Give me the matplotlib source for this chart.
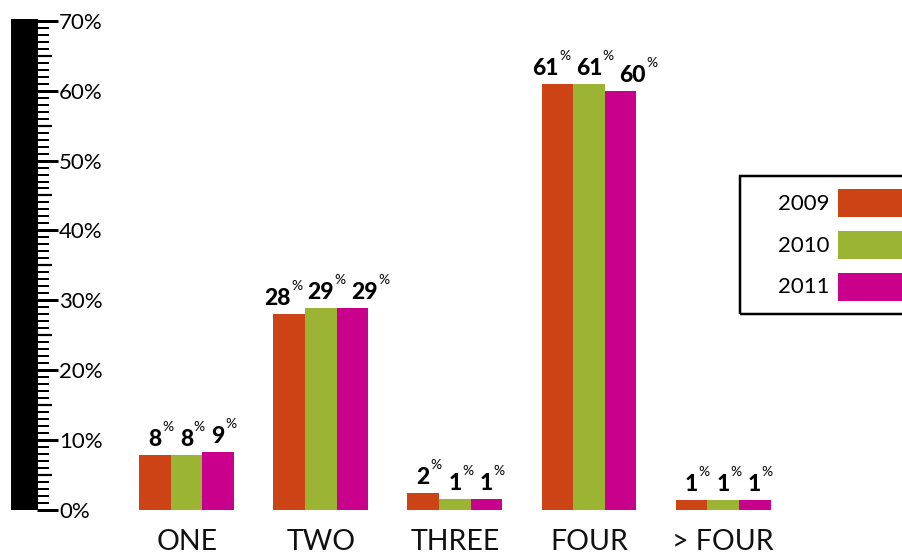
import matplotlib
matplotlib.use('Agg')
import matplotlib.pyplot as plt
import matplotlib.transforms as mtrans
from matplotlib.patches import Rectangle
import numpy as np

# ---------------- data ----------------
categories = ['ONE', 'TWO', 'THREE', 'FOUR', '> FOUR']
years = ['2009', '2010', '2011']
values_2009 = [7.8, 28.0, 2.4, 61.0, 1.3]
values_2010 = [7.8, 28.9, 1.5, 61.0, 1.3]
values_2011 = [8.3, 28.9, 1.5, 59.9, 1.3]
labels_2009 = ['8', '28', '2', '61', '1']
labels_2010 = ['8', '29', '1', '61', '1']
labels_2011 = ['9', '29', '1', '60', '1']
y_ticks = [0, 10, 20, 30, 40, 50, 60, 70]
y_tick_labels = ['0%', '10%', '20%', '30%', '40%', '50%', '60%', '70%']
colors = ['#CC4416', '#9CB434', '#C8008C']

series = [values_2009, values_2010, values_2011]
series_labels = [labels_2009, labels_2010, labels_2011]

# ---------------- layout ----------------
W, H = 903, 553
DPI = 100
PT = 72.0 / DPI          # points per pixel

y0_pix, y70_pix = 509.5, 21.0
x0_pix, step_pix = 186.7, 134.1

fig = plt.figure(figsize=(W / DPI, H / DPI), dpi=DPI)
ax = fig.add_axes([0, (H - y0_pix) / H, 1, (y0_pix - y70_pix) / H])
ax.set_xlim(-x0_pix / step_pix, (W - x0_pix) / step_pix)
ax.set_ylim(0, 70)
ax.axis('off')

FONT = ['Lato', 'DejaVu Sans']

# bars
x = np.arange(len(categories))
w = 31.6 / step_pix
for j, (vals, col) in enumerate(zip(series, colors)):
    ax.bar(x + (j - 1) * w, vals, width=w, color=col, edgecolor='none')

# ruler
yt = ax.get_yaxis_transform()
ax.add_patch(Rectangle((11 / W, -0.07), 27 / W, 70.36, transform=yt,
                       facecolor='black', edgecolor='none', clip_on=False))
for v in range(0, 71):
    if v % 10 == 0:
        end, lw = 58, 3.0
    elif v % 5 == 0:
        end, lw = 52, 2.2
    else:
        end, lw = 49, 2.0
    ax.plot([37 / W, end / W], [v, v], transform=yt, color='black',
            lw=lw * PT, solid_capstyle='butt', clip_on=False)

for v, lab in zip(y_ticks, y_tick_labels):
    ax.annotate(lab, xy=(59 / W, v), xycoords=yt, xytext=(0, -8 * PT),
                textcoords='offset points', ha='left', va='baseline',
                fontsize=16, family=FONT, color='black')

# category labels
for xi, cat in zip(x, categories):
    ax.annotate(cat, xy=(xi, 0), xytext=(0, -(549.5 - y0_pix) * PT),
                textcoords='offset points', ha='center', va='baseline',
                fontsize=20.5, family=FONT, weight='normal', color='#111111',
                annotation_clip=False)

# value labels
fig.canvas.draw()
renderer = fig.canvas.get_renderer()
for j, (vals, labs) in enumerate(zip(series, series_labels)):
    for xi, v, lab in zip(x, vals, labs):
        xc = xi + (j - 1) * w
        dx = (j - 1) * 12 if len(lab) > 1 else 0
        t = ax.annotate(lab, xy=(xc, v), xytext=(dx * PT, 9 * PT),
                        textcoords='offset points', ha='center', va='baseline',
                        fontsize=16.5, family=FONT, weight='black', color='black')
        bb = t.get_window_extent(renderer)
        half = bb.width / 2
        ax.annotate('%', xy=(xc, v), xytext=((dx + half + 0.5) * PT, 24 * PT),
                    textcoords='offset points', ha='left', va='baseline',
                    fontsize=10, family=FONT, color='black')

# legend (drawn manually, extends past the right edge)
ident = mtrans.IdentityTransform()
fig.add_artist(Rectangle((740, H - 314), 220, 138, transform=ident,
                         fill=False, edgecolor='black', lw=2.5 * PT, clip_on=False))
leg_centers = [203, 245, 286.5]
for yr, col, yc in zip(years, colors, leg_centers):
    fig.add_artist(Rectangle((838, H - yc - 14), 100, 28, transform=ident,
                             facecolor=col, edgecolor='none', clip_on=False))
    fig.text(830 / W, (H - yc + 1.5 - 8) / H, yr, ha='right', va='baseline',
             fontsize=16, family=FONT, color='black')

fig.savefig('out.png', dpi=DPI)
